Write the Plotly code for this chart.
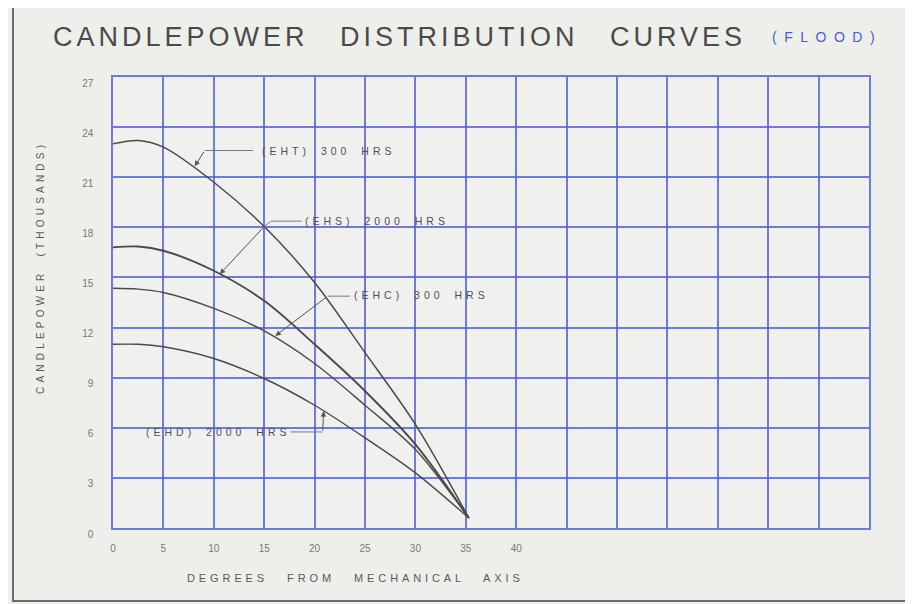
import plotly.graph_objects as go

# ---------------- data ----------------
degrees = [0, 2.5, 5, 10, 15, 20, 25, 30, 35.3]
eht_300 = [23.0, 23.2, 22.8, 20.7, 18.05, 14.7, 10.5, 6.2, 0.6]
ehs_2000 = [16.8, 16.85, 16.6, 15.4, 13.6, 11.0, 8.2, 5.0, 0.6]
ehc_300 = [14.35, 14.3, 14.1, 13.15, 11.8, 9.85, 7.35, 4.7, 0.6]
ehd_2000 = [11.0, 11.0, 10.85, 10.15, 8.95, 7.35, 5.4, 3.3, 0.6]

series_names = ["(EHT) 300 HRS", "(EHS) 2000 HRS", "(EHC) 300 HRS", "(EHD) 2000 HRS"]

x_tickvals = list(range(0, 80, 5))
x_ticktext = ["0", "5", "10", "15", "20", "25", "30", "35", "40"] + [""] * 7
y_tickvals = [0, 3, 6, 9, 12, 15, 18, 21, 24, 27]
y_ticktext = ["0", "3", "6", "9", "12", "15", "18", "21", "24", "27"]

title_text = "CANDLEPOWER DISTRIBUTION CURVES"
subtitle_text = "(FLOOD)"
x_title = "DEGREES FROM MECHANICAL AXIS"
y_title = "CANDLEPOWER (THOUSANDS)"

# ---------------- layout constants ----------------
W, H = 913, 604
OFF = 8                      # page body margin of the html page
PL, PR, PT, PB = 113, 869, 77, 528   # plot area in window pixels
L, T = PL - OFF, PT - OFF
PW, PH = PR - PL, PB - PT
R, B = W - L - PW, H - T - PH

def px(x):
    return (x - PL) / PW

def py(y):
    return (PB - y) / PH

GRID = "rgba(78,94,212,0.8)"
CURVE = "#4a4a4a"
TEXT = "#5a5a5a"
LEAD = "#7a7a7a"
BG = "#eeeeeb"

fig = go.Figure()

for name, vals, w in zip(series_names, [eht_300, ehs_2000, ehc_300, ehd_2000], [1.5, 1.9, 1.4, 1.4]):
    fig.add_trace(go.Scatter(
        x=degrees, y=vals, mode="lines", name=name,
        line=dict(color=CURVE, width=w, shape="spline", smoothing=0.9),
        showlegend=False, hoverinfo="x+y+name",
    ))

def spaced(t, ls, ws=None):
    st = f"letter-spacing:{ls}px"
    if ws is not None:
        st += f";word-spacing:{ws}px"
    return f'<span style="{st}">{t}</span>'

annotations = []
shapes = []

# title
annotations.append(dict(
    text=spaced(title_text, 4.0, 20), xref="paper", yref="paper",
    x=px(51), y=py(37), xanchor="left", yanchor="middle", showarrow=False,
    font=dict(family="Liberation Sans", size=27, color="#4a4a4a"),
))
annotations.append(dict(
    text=spaced(subtitle_text, 7.5), xref="paper", yref="paper",
    x=px(770), y=py(37), xanchor="left", yanchor="middle", showarrow=False,
    font=dict(family="Liberation Sans", size=14, color="#4a5fd0"),
))
# axis titles
annotations.append(dict(
    text=spaced(x_title, 3.9, 12), xref="paper", yref="paper",
    x=px(185), y=py(578), xanchor="left", yanchor="middle", showarrow=False,
    font=dict(family="Liberation Sans", size=11, color=TEXT),
))
annotations.append(dict(
    text=spaced(y_title, 4.2, 6), xref="paper", yref="paper",
    x=px(40), y=py(268), xanchor="center", yanchor="middle", showarrow=False,
    textangle=-90, font=dict(family="Liberation Sans", size=10, color=TEXT),
))

# curve labels: (text position), horizontal leader, arrow (from -> tip)
label_pos = [(14.6, 22.6), (18.85, 18.4), (23.7, 13.95), (3.1, 5.77)]
leader_h = [((9.1, 22.6), (13.9, 22.6)), ((15.7, 18.37), (18.7, 18.37)),
            ((21.3, 13.88), (23.5, 13.88)), ((17.6, 5.75), (20.8, 5.75))]
leader_arrow = [((9.1, 22.6), (8.1, 21.65)), ((15.0, 18.05), (10.6, 15.2)),
                ((21.3, 13.88), (16.1, 11.5)), ((20.8, 5.75), (20.9, 7.0))]

for name, (lx, ly) in zip(series_names, label_pos):
    annotations.append(dict(
        text=spaced(name, 4.0, 4), x=lx, y=ly, xref="x", yref="y",
        xanchor="left", yanchor="middle", showarrow=False,
        font=dict(family="Liberation Sans", size=10.5, color="#505050"),
    ))
for (a, b) in leader_h:
    shapes.append(dict(type="line", xref="x", yref="y", x0=a[0], y0=a[1], x1=b[0], y1=b[1],
                       line=dict(color=LEAD, width=1)))
# EHS leader connects to curve point before the arrow
shapes.append(dict(type="line", xref="x", yref="y", x0=15.7, y0=18.37, x1=15.0, y1=18.05,
                   line=dict(color=LEAD, width=1)))
for (a, b) in leader_arrow:
    annotations.append(dict(
        text="", x=b[0], y=b[1], ax=a[0], ay=a[1], xref="x", yref="y",
        axref="x", ayref="y", showarrow=True, arrowhead=2, arrowsize=1.1,
        arrowwidth=1, arrowcolor="#555555",
    ))

# outer card border
shapes.append(dict(type="rect", xref="paper", yref="paper",
                   x0=px(13), x1=px(940), y0=py(601), y1=py(3),
                   line=dict(color="#6a6a6a", width=2), layer="below"))

fig.update_layout(
    width=W, height=H,
    margin=dict(l=L, r=R, t=T, b=B),
    paper_bgcolor=BG, plot_bgcolor="#f0f0ee",
    annotations=annotations, shapes=shapes,
    font=dict(family="Liberation Sans", color=TEXT),
    xaxis=dict(range=[0, 75], tickvals=x_tickvals, ticktext=x_ticktext,
               showgrid=True, gridcolor=GRID, gridwidth=1.5,
               showline=True, linecolor=GRID, linewidth=1.5, mirror=True,
               zeroline=False, ticks="", ticklabelstandoff=10,
               tickfont=dict(size=10, color="#777777")),
    yaxis=dict(range=[0, 27], tickvals=y_tickvals, ticktext=y_ticktext,
               showgrid=True, gridcolor=GRID, gridwidth=1.5,
               showline=True, linecolor=GRID, linewidth=1.5, mirror=True,
               zeroline=False, ticks="", ticklabelstandoff=16, ticklabelshift=6,
               tickfont=dict(size=10, color="#777777")),
)

fig.write_html("out.html")
